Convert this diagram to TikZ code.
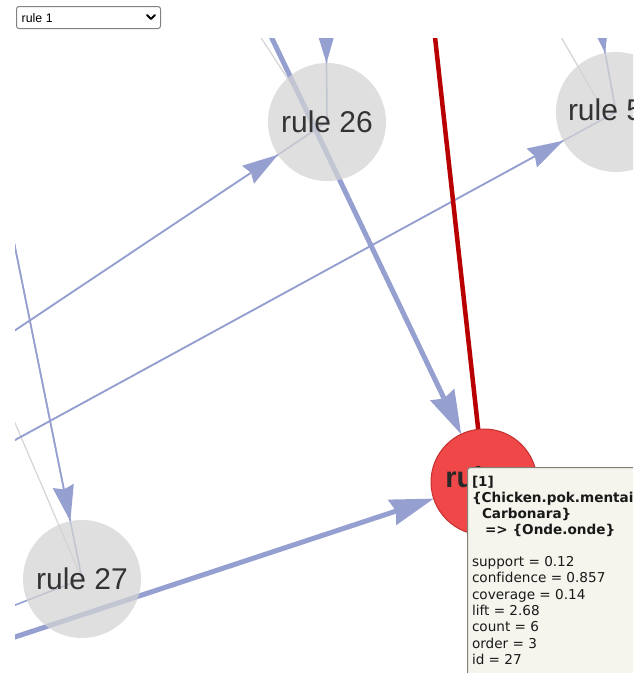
\documentclass[tikz,border=0pt]{standalone}
\usepackage{fontspec}
\setmainfont{Liberation Sans}
\newfontfamily\verd[Ligatures={NoCommon}]{DejaVu Sans}
\usetikzlibrary{arrows.meta}
\pgfdeclarelayer{bg}
\pgfsetlayers{bg,main}
\definecolor{edgeblue}{RGB}{150,160,208}
\definecolor{faint}{RGB}{212,212,216}
\definecolor{nodegray}{RGB}{211,211,211}
\definecolor{redfill}{RGB}{240,72,72}
\definecolor{redline}{RGB}{184,0,0}
\definecolor{redborder}{RGB}{196,48,48}
\definecolor{txt}{RGB}{51,51,51}
\definecolor{tipbg}{RGB}{245,244,237}
\definecolor{tipborder}{RGB}{128,128,116}
\definecolor{ddborder}{RGB}{130,130,130}
\begin{document}
\begin{tikzpicture}[x=1pt,y=-1pt,
  thinedge/.style={draw=edgeblue, line width=1.6pt},
  thickedge/.style={draw=edgeblue, line width=5pt},
  faintedge/.style={draw=faint, line width=1.2pt},
  rededge/.style={draw=redline, line width=4.5pt},
  thinarrow/.style={thinedge, -{Stealth[length=36pt,width=21.6pt,inset=3.6pt,line width=0pt]}},
  thickarrow/.style={thickedge, -{Stealth[length=44pt,width=27pt,inset=4.4pt,line width=0pt]}},
  graynode/.style={circle, fill=nodegray, fill opacity=0.73, text opacity=1, minimum size=118pt, inner sep=0pt, outer sep=0pt, text=txt, font=\fontsize{30}{36}\selectfont},
  rednode/.style={circle, fill=redfill, draw=redborder, line width=1pt, minimum size=106pt, inner sep=0pt, outer sep=0pt},
  lab/.style={inner sep=0pt, outer sep=0pt, text=txt, font=\fontsize{30}{36}\selectfont},
  tiptext/.style={inner sep=0pt, outer sep=0pt, anchor=base west, text={rgb,255:red,25;green,25;blue,25}, font=\verd\fontsize{13.6}{16}\selectfont},
  tipbox/.style={draw=tipborder, fill=tipbg, line width=1pt, rounded corners=3pt, inner sep=0pt},
  dropbox/.style={draw=ddborder, fill=white, line width=1pt, rounded corners=2.5pt, inner sep=0pt, minimum width=144pt, minimum height=22pt, anchor=north west},
  droptext/.style={inner sep=0pt, anchor=base west, font=\fontsize{12.4}{14}\selectfont, text=black}
]
\useasboundingbox (0,0) rectangle (633,673);
\clip (0,0) rectangle (633,673);

% dropdown
\node[dropbox] (dd) at (16,6) {};
\node[droptext] (ddt) at (21.5,22) {rule 1};
\draw[line width=2pt, line cap=round, line join=round] (147,15) -- (151,19) -- (155,15);

% nodes
\node[graynode] (r26) at (327,122) {rule 26};
\node[graynode] (r27) at (82,579) {rule 27};
\node[graynode, minimum size=120pt] (r5) at (616,112) {};
\node[lab, anchor=base west] (r5t) at (568,120) {rule 5};
\node[rednode] (red) at (484,482) {};
\node[lab, font=\bfseries\fontsize{29}{34}\selectfont, text={rgb,255:red,40;green,40;blue,40}] (redlab) at (484,477) {rule 1};

% tooltip
\node[tipbox, minimum width=200pt, minimum height=230pt, anchor=north west] (tip) at (467,467) {};
\node[tiptext] (t1) at (472,486) {\bfseries [1]};
\node[tiptext] (t2) at (472,502) {\bfseries \{Chicken.pok.mentai,};
\node[tiptext] (t3) at (482,518) {\bfseries Carbonara\}};
\node[tiptext] (t4) at (485,534) {\bfseries => \{Onde.onde\}};
\node[tiptext] (t5) at (472,566.5) {support = 0.12};
\node[tiptext] (t6) at (472,582.8) {confidence = 0.857};
\node[tiptext] (t7) at (472,599.1) {coverage = 0.14};
\node[tiptext] (t8) at (472,615.4) {lift = 2.68};
\node[tiptext] (t9) at (472,631.7) {count = 6};
\node[tiptext] (t10) at (472,648) {order = 3};
\node[tiptext] (t11) at (472,664.3) {id = 27};

% edges
\begin{pgfonlayer}{bg}
\begin{scope}
\clip (15,38) rectangle (633,673);
\coordinate (s1) at (5,337);
\coordinate (s2) at (5,445.5);
\coordinate (s3) at (13,237);
\coordinate (s4) at (12,416);
\coordinate (s5) at (5,609);
\coordinate (s6) at (5,640.3);
\coordinate (s7) at (268,30);
\coordinate (s8) at (326,10);
\coordinate (s9) at (600,25);
\coordinate (s10) at (557,30);
\coordinate (e10) at (606,115);
\coordinate (s11) at (256,30);
\coordinate (e11) at (316,122);
\coordinate (s12) at (434,28);
% faint
\draw[faintedge] (s4) -- (r27.center);
\draw[faintedge] (s10) -- (e10);
\draw[faintedge] (s11) -- (e11);
% thin
\draw[thinedge] (s1) -- (r26.center);
\draw[thinarrow] (s1) -- (r26);
\draw[thinedge] (s2) -- (r5.center);
\draw[thinarrow] (s2) -- (r5);
\draw[thinedge] (s3) -- (r27.center);
\draw[thinarrow] (s3) -- (r27);
\draw[thinedge] (r27.center) -- (s5);
\draw[thinedge] (s8) -- (r26.center);
\draw[thinarrow] (s8) -- (r26);
\draw[thinedge] (s9) -- (r5.center);
\draw[thinarrow] (s9) -- (r5);
% thick
\draw[thickarrow] (s6) -- (red);
\draw[thickarrow] (s7) -- (red);
% red
\draw[rededge] (red.center) -- (s12);
\end{scope}
\end{pgfonlayer}
\end{tikzpicture}
\end{document}
